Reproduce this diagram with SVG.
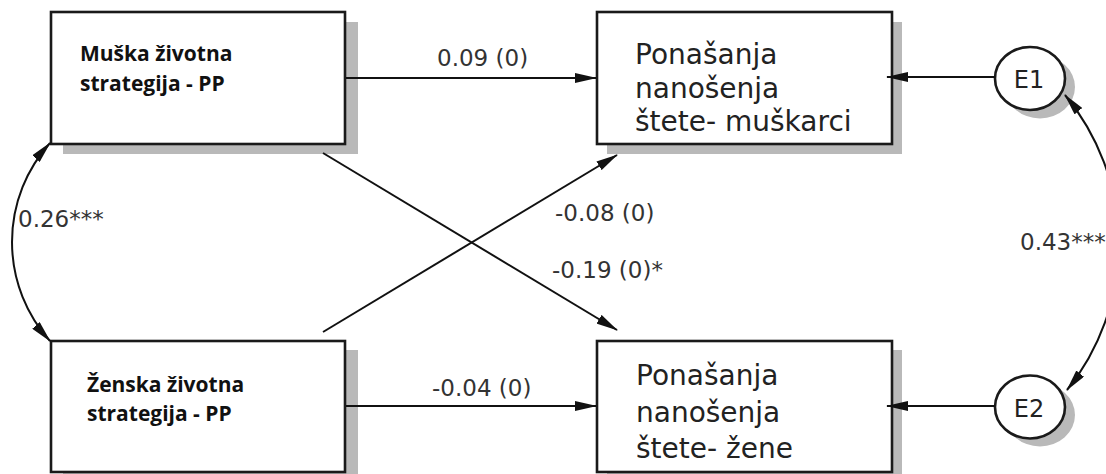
<svg xmlns="http://www.w3.org/2000/svg" width="1106" height="474" viewBox="0 0 1106 474">
  <style>
    .box { fill: #ffffff; stroke: #1a1a1a; stroke-width: 2.6; }
    .shadow { fill: #b9b9b9; stroke: none; }
    .conn { fill: none; stroke: #111111; stroke-width: 2; }
    .arr { marker-end: url(#ah); }
    .dbl { marker-start: url(#ah); marker-end: url(#ah); }
    .lbl { font-family: "DejaVu Sans", Verdana, sans-serif; font-size: 23px; fill: #333333; }
    .big { font-family: "DejaVu Sans", Verdana, sans-serif; font-size: 28px; fill: #222222; }
    .bold { font-family: "Open Sans", "Liberation Sans", sans-serif; font-weight: 700; font-size: 21px; fill: #111111; }
    .etxt { font-family: "DejaVu Sans", Verdana, sans-serif; font-size: 24px; fill: #222222; }
  </style>
  <defs>
    <marker id="ah" markerUnits="userSpaceOnUse" viewBox="0 0 22 10" markerWidth="22" markerHeight="10" refX="21" refY="5" orient="auto-start-reverse">
      <path d="M0,0 L22,5 L0,10 z" fill="#111111"/>
    </marker>
  </defs>

  <rect width="1106" height="474" fill="#ffffff"/>

  <g id="node-muska">
    <rect class="shadow" x="63" y="22" width="295" height="132"/>
    <rect class="box" x="51" y="12" width="294" height="132"/>
    <text class="bold" x="80" y="61">Muška životna</text>
    <text class="bold" x="80" y="91">strategija - PP</text>
  </g>

  <g id="node-zenska">
    <rect class="shadow" x="63" y="350" width="295" height="132"/>
    <rect class="box" x="51" y="341" width="294" height="131"/>
    <text class="bold" x="87" y="392">Ženska životna</text>
    <text class="bold" x="87" y="421">strategija - PP</text>
  </g>

  <g id="node-ponasanja-muskarci">
    <rect class="shadow" x="607" y="22" width="295" height="132"/>
    <rect class="box" x="597" y="12" width="295" height="132"/>
    <text class="big" x="635" y="64">Ponašanja</text>
    <text class="big" x="635" y="97.5">nanošenja</text>
    <text class="big" x="635" y="131">štete- muškarci</text>
  </g>

  <g id="node-ponasanja-zene">
    <rect class="shadow" x="607" y="350" width="295" height="132"/>
    <rect class="box" x="597" y="341" width="295" height="131"/>
    <text class="big" x="636" y="385">Ponašanja</text>
    <text class="big" x="636" y="421.5">nanošenja</text>
    <text class="big" x="636" y="458">štete- žene</text>
  </g>

  <g id="node-e1">
    <ellipse class="shadow" cx="1040" cy="87" rx="35" ry="31.5"/>
    <ellipse class="box" cx="1030" cy="78.5" rx="35" ry="31.5"/>
    <text class="etxt" x="1029" y="88" text-anchor="middle">E1</text>
  </g>

  <g id="node-e2">
    <ellipse class="shadow" cx="1040" cy="415" rx="35" ry="31.5"/>
    <ellipse class="box" cx="1030" cy="407" rx="35" ry="31.5"/>
    <text class="etxt" x="1029" y="416.5" text-anchor="middle">E2</text>
  </g>

  <g id="connectors">
    <line class="conn arr" x1="346" y1="78" x2="596" y2="78"/>
    <line class="conn arr" x1="346" y1="406" x2="596" y2="406"/>
    <line class="conn arr" x1="323" y1="153" x2="617" y2="330"/>
    <line class="conn arr" x1="323" y1="332" x2="617" y2="155"/>
    <line class="conn arr" x1="995" y1="77" x2="887" y2="77"/>
    <line class="conn arr" x1="995" y1="406" x2="887" y2="406"/>
    <path class="conn dbl" d="M50,143 A148,148 0 0 0 50,341"/>
    <path class="conn dbl" d="M1065,95 A233,233 0 0 1 1067,390"/>
    <text class="lbl" x="437" y="66">0.09 (0)</text>
    <text class="lbl" x="432" y="396">-0.04 (0)</text>
    <text class="lbl" x="555" y="221">-0.08 (0)</text>
    <text class="lbl" x="552" y="278">-0.19 (0)*</text>
    <text class="lbl" x="18" y="227">0.26***</text>
    <text class="lbl" x="1020" y="250">0.43***</text>
  </g>
</svg>
